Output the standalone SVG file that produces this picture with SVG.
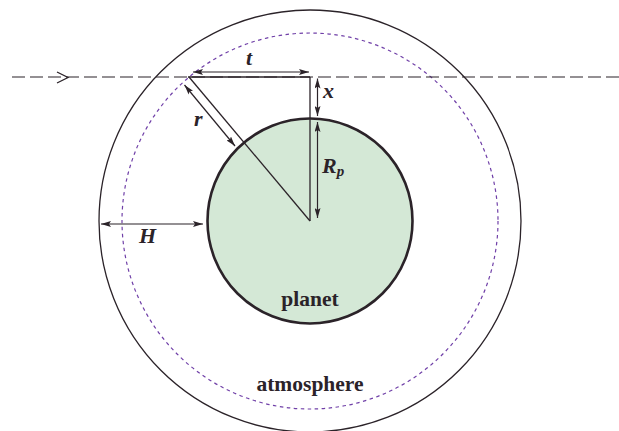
<svg xmlns="http://www.w3.org/2000/svg" width="619" height="431" viewBox="0 0 619 431">
<style>
.ln{stroke:#2b2329;stroke-width:1.3;fill:none}
.dim{stroke:#2b2329;stroke-width:1.2;fill:none;marker-start:url(#ah);marker-end:url(#ah)}
.lbl{font-family:"Liberation Serif","Times New Roman",serif;font-weight:bold;font-style:italic;font-size:22px;fill:#2b2329}
.nm{font-family:"Liberation Serif","Times New Roman",serif;font-weight:bold;font-size:21.5px;fill:#2b2329;text-anchor:middle}
</style>
<defs>
<marker id="ah" viewBox="0 0 10 6" refX="10" refY="3" markerWidth="10" markerHeight="6" markerUnits="userSpaceOnUse" orient="auto-start-reverse">
<path d="M0,0 L10,3 L0,6 L2,3 Z" fill="#2b2329"/>
</marker>
</defs>
<rect width="619" height="431" fill="#fff"/>
<g id="atmosphere">
<circle cx="310" cy="221" r="211" class="ln" stroke-width="1.2"/>
<circle cx="310" cy="221" r="188" fill="none" stroke="#7040a8" stroke-width="1.2" stroke-dasharray="3.5 3.5"/>
<text x="310" y="391" class="nm">atmosphere</text>
</g>
<g id="planet">
<circle cx="310" cy="221" r="102.5" fill="#d4e8d6" stroke="#2b2329" stroke-width="2.6"/>
<text x="310" y="306" class="nm">planet</text>
</g>
<g id="connectors">
<line x1="12" y1="77" x2="619" y2="77" stroke="#2b2329" stroke-width="1.2" stroke-dasharray="13 5"/>
<polyline points="57,72 68,77.5 57,83" class="ln" stroke-width="1.3"/>
<line x1="188" y1="77" x2="310" y2="77" class="ln"/>
<line x1="310" y1="77" x2="310" y2="221" class="ln"/>
<line x1="189" y1="77" x2="310" y2="221" class="ln"/>
<line x1="193" y1="72" x2="309" y2="72" class="dim"/>
<line x1="317.5" y1="78.5" x2="317.5" y2="116" class="dim"/>
<line x1="317.5" y1="122" x2="317.5" y2="218" class="dim"/>
<line x1="184.5" y1="85" x2="235" y2="146" class="dim"/>
<line x1="101" y1="224" x2="203" y2="224" class="dim"/>
</g>
<g id="labels">
<text x="246" y="65" class="lbl">t</text>
<text x="323" y="98" class="lbl">x</text>
<text x="194" y="126" class="lbl">r</text>
<text x="322" y="173" class="lbl">R<tspan font-size="15" dy="3">p</tspan></text>
<text x="139" y="243" class="lbl">H</text>
</g>
</svg>
